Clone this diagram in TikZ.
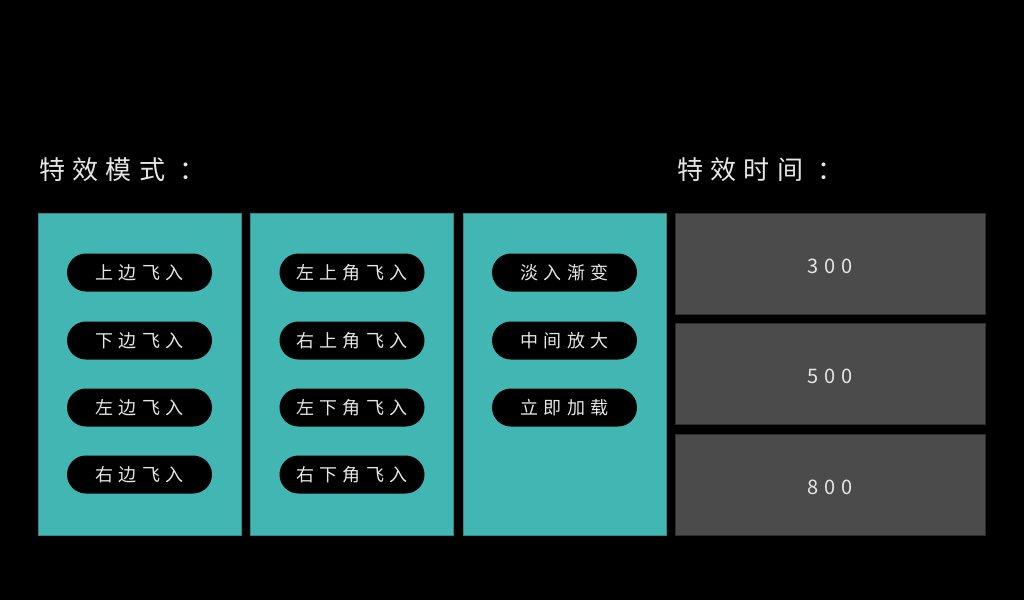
\documentclass[tikz,border=0pt]{standalone}
\usepackage{fontspec}
\newfontfamily\cjk[LetterSpace=28]{Noto Sans CJK SC}
\definecolor{bgblack}{HTML}{000000}
\definecolor{panelteal}{HTML}{42B6B2}
\definecolor{timegray}{HTML}{4B4B4B}
\definecolor{textgray}{HTML}{E6E6E6}

\begin{document}
\begin{tikzpicture}[x=1pt,y=-1pt,
	panel/.style={fill=panelteal,draw=panelteal!75!black,line width=0.8pt,minimum width=203pt,minimum height=322pt,inner sep=0pt},
	pill/.style={fill=black,rounded corners=19pt,minimum width=145pt,minimum height=38pt,inner sep=0pt,text=textgray,font=\cjk\fontsize{18pt}{20pt}\selectfont},
	timebox/.style={fill=timegray,draw=timegray!60!black,line width=0.8pt,minimum width=310pt,minimum height=101pt,inner sep=0pt,text=textgray,font=\cjk\fontsize{20pt}{22pt}\selectfont},
	heading/.style={anchor=west,inner sep=0pt,text=textgray,font=\cjk\fontsize{26pt}{28pt}\selectfont}]
		\fill[bgblack] (0,0) rectangle (1024,600);
		\useasboundingbox (0,0) rectangle (1024,600);

		% headings
		\node[heading] (modetitle) at (39,170) {特效模式\hbox to 14pt{}：};
		\node[heading] (timetitle) at (677,170) {特效时间\hbox to 14pt{}：};

		% mode panels
		\node[panel] (panelA) at (139.5,374) {};
		\node[panel] (panelB) at (351.5,374) {};
		\node[panel] (panelC) at (564.5,374) {};

		\node[pill] (topin) at (139.5,272.5) {上边飞入};
		\node[pill] (bottomin) at (139.5,340.5) {下边飞入};
		\node[pill] (leftin) at (139.5,407.5) {左边飞入};
		\node[pill] (rightin) at (139.5,474.5) {右边飞入};

		\node[pill] (topleftin) at (352,272.5) {左上角飞入};
		\node[pill] (toprightin) at (352,340.5) {右上角飞入};
		\node[pill] (bottomleftin) at (352,407.5) {左下角飞入};
		\node[pill] (bottomrightin) at (352,474.5) {右下角飞入};

		\node[pill] (fadein) at (564.5,272.5) {淡入渐变};
		\node[pill] (zoomin) at (564.5,340.5) {中间放大};
		\node[pill] (loadnow) at (564.5,407.5) {立即加载};

		% time boxes
		\node[timebox] (timeA) at (830,263.5) {\raisebox{-3pt}[\height][0pt]{300}};
		\node[timebox] (timeB) at (830,373.5) {\raisebox{-3pt}[\height][0pt]{500}};
		\node[timebox] (timeC) at (830,484.5) {\raisebox{-3pt}[\height][0pt]{800}};
	\end{tikzpicture}
\end{document}
